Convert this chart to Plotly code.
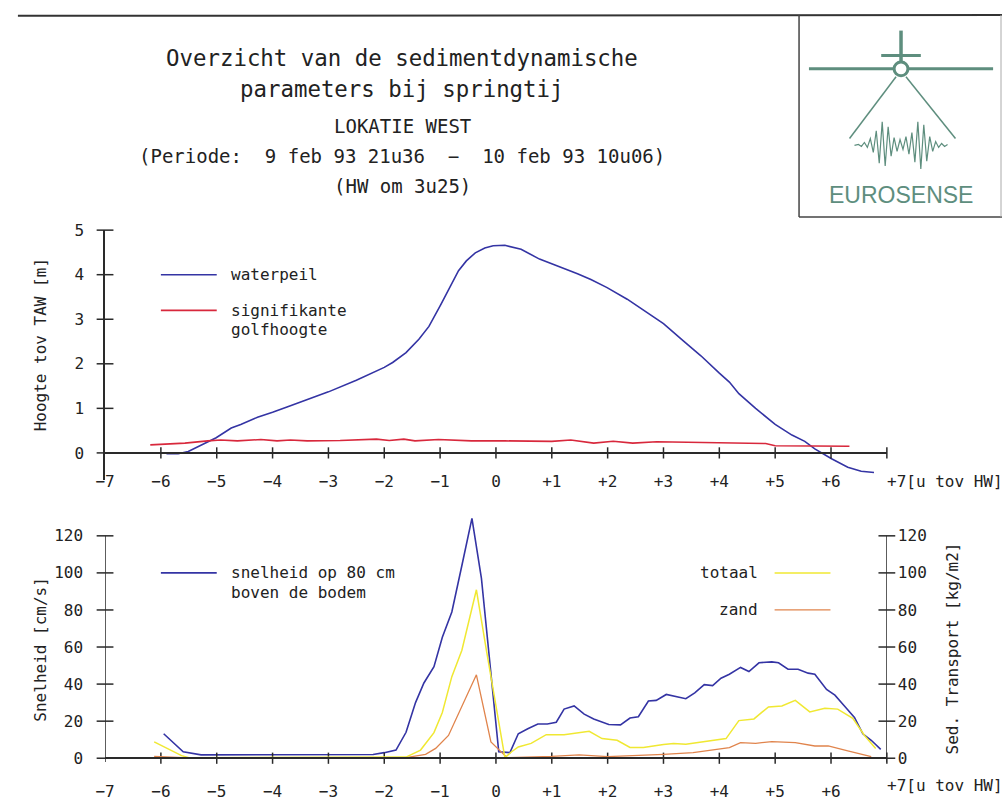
import plotly.graph_objects as go

# ---------------- data ----------------
# top chart: waterpeil (m TAW) vs hours relative to HW
wp_t = [-5.90, -5.69, -5.51, -5.22, -5.01, -4.74, -4.57, -4.27, -4.00, -3.68, -3.38, -3.00,
        -2.50, -2.20, -2.00, -1.85, -1.61, -1.38, -1.20, -0.99, -0.79, -0.67, -0.53, -0.37,
        -0.20, -0.05, 0.16, 0.45, 0.78, 0.99, 1.46, 1.70, 1.99, 2.35, 2.70, 3.00, 3.35, 3.67,
        4.00, 4.18, 4.35, 4.65, 5.00, 5.30, 5.53, 5.71, 6.01, 6.30, 6.54, 6.77]
wp = [-0.02, -0.02, 0.03, 0.20, 0.34, 0.56, 0.64, 0.80, 0.91, 1.06, 1.20, 1.37,
      1.63, 1.80, 1.92, 2.03, 2.25, 2.55, 2.84, 3.32, 3.79, 4.09, 4.31, 4.49,
      4.60, 4.65, 4.66, 4.57, 4.35, 4.25, 4.02, 3.89, 3.71, 3.45, 3.16, 2.90, 2.52, 2.18,
      1.79, 1.59, 1.33, 1.00, 0.64, 0.40, 0.26, 0.09, -0.13, -0.32, -0.41, -0.44]

# top chart: significant wave height (m)
gh_t = [-6.19, -5.57, -5.16, -4.93, -4.63, -4.21, -3.92, -3.68, -3.38, -2.79, -2.14, -1.91,
        -1.65, -1.45, -1.03, -0.44, 0.16, 1.00, 1.34, 1.75, 2.10, 2.45, 2.88, 3.95, 4.83,
        5.00, 5.71, 6.33]
gh = [0.18, 0.22, 0.27, 0.29, 0.27, 0.30, 0.27, 0.29, 0.27, 0.28, 0.31, 0.28,
      0.31, 0.27, 0.30, 0.27, 0.27, 0.26, 0.29, 0.22, 0.26, 0.22, 0.25, 0.22, 0.21,
      0.16, 0.15, 0.15]

# bottom chart: snelheid (cm/s)
sn_t = [-5.95, -5.60, -5.28, -4.5, -3.5, -2.5, -2.2, -2.0, -1.79, -1.61, -1.44, -1.29, -1.11,
        -0.96, -0.79, -0.61, -0.43, -0.26, 0.05, 0.25, 0.40, 0.57, 0.75, 0.92, 1.08, 1.22,
        1.40, 1.58, 1.75, 2.02, 2.23, 2.40, 2.55, 2.73, 2.87, 3.05, 3.23, 3.40, 3.56, 3.73,
        3.88, 4.03, 4.18, 4.38, 4.53, 4.71, 4.94, 5.06, 5.23, 5.41, 5.59, 5.71, 5.92, 6.07,
        6.24, 6.42, 6.57, 6.72, 6.89]
sn = [13.2, 3.5, 1.8, 1.8, 1.8, 1.8, 2.0, 3.0, 4.4, 14, 30, 40.6, 49.4,
      65.3, 78.9, 104, 129.4, 97, 3.5, 3.0, 13.2, 15.9, 18.5, 18.5, 19.4, 26.5,
      28.2, 23.8, 21.2, 18.2, 18.0, 21.7, 22.4, 30.9, 31.2, 34.4, 33, 32.1, 35.3, 39.7,
      39.2, 43.2, 45.3, 49, 46.8, 51.5, 52, 51.5, 48, 48, 45.9, 45.3, 37.1, 34,
      28.2, 22, 13.2, 9.7, 4.8]

# bottom chart: sediment transport totaal (kg/m2)
tt_t = [-6.12, -5.63, -5.5, -4.5, -3.5, -2.5, -1.61, -1.35, -1.11, -0.96, -0.79, -0.61,
        -0.35, -0.17, 0.01, 0.16, 0.28, 0.40, 0.63, 0.90, 1.22, 1.43, 1.67, 1.90, 2.17,
        2.40, 2.64, 3.00, 3.18, 3.40, 3.64, 3.88, 4.12, 4.35, 4.62, 4.88, 5.12, 5.36, 5.62,
        5.89, 6.12, 6.39, 6.60, 6.80]
tt = [8.8, 1.4, 0.3, 0.3, 0.3, 0.3, 0.6, 4.4, 13.8, 24.7, 44, 58.3,
      90.9, 58, 26.5, 0.3, 3.5, 6.1, 8, 12.7, 12.7, 13.6, 14.5, 10.6, 9.7,
      5.8, 5.8, 7.4, 8, 7.6, 8.5, 9.7, 10.6, 20.3, 21.2, 27.7, 28.2, 31.2, 25,
      27, 26.5, 21.5, 12.3, 5.3]

# bottom chart: sediment transport zand (kg/m2)
zd_t = [-6.12, -5.6, -4.5, -3.5, -2.5, -1.61, -1.26, -1.08, -0.85, -0.35, -0.09, 0.09, 0.20,
        1.0, 1.49, 2.0, 2.6, 3.0, 3.53, 3.95, 4.18, 4.38, 4.65, 4.94, 5.36, 5.71, 5.95,
        6.30, 6.72]
zd = [1.0, 0.3, 0.3, 0.3, 0.3, 0.3, 2.1, 5.3, 12.3, 45, 8.8, 3.5, 0.3,
      1.0, 1.8, 0.9, 1.4, 2.1, 3.0, 4.8, 5.7, 8.4, 8.0, 9.0, 8.4, 6.6, 6.6,
      4.0, 0.9]

x_ticks = [-7, -6, -5, -4, -3, -2, -1, 0, 1, 2, 3, 4, 5, 6]
x_ticktext = ["\u22127", "\u22126", "\u22125", "\u22124", "\u22123", "\u22122", "\u22121",
              "0", "+1", "+2", "+3", "+4", "+5", "+6"]
top_yticks = [0, 1, 2, 3, 4, 5]
bot_yticks = [0, 20, 40, 60, 80, 100, 120]

# ---------------- styling ----------------
W, H = 1002, 812
FONT = "DejaVu Sans Mono"
TXT = "#222222"
AX = "#2a2a2a"
BLUE = "#3434a4"
RED = "#d8283c"
YELLOW = "#f0e832"
ORANGE = "#e0844c"
LOGO = "#5e8e7e"


def px(x):
    return x / W


def py(y):
    return 1 - y / H


X_DOM = [px(96), px(885.7)]
TOP_DOM = [py(479.5), py(225.3)]
BOT_RANGE = [-2, 131]
BOT_DOM = [py(767.1), py(763.3 - 131 * 1.888)]

fig = go.Figure()

# data traces
fig.add_trace(go.Scatter(x=wp_t, y=wp, mode="lines", line=dict(color=BLUE, width=1.6),
                         xaxis="x", yaxis="y", hoverinfo="skip"))
fig.add_trace(go.Scatter(x=gh_t, y=gh, mode="lines", line=dict(color=RED, width=1.6),
                         xaxis="x", yaxis="y", hoverinfo="skip"))
fig.add_trace(go.Scatter(x=zd_t, y=zd, mode="lines", line=dict(color=ORANGE, width=1.3),
                         xaxis="x2", yaxis="y4", hoverinfo="skip"))
fig.add_trace(go.Scatter(x=tt_t, y=tt, mode="lines", line=dict(color=YELLOW, width=1.5),
                         xaxis="x2", yaxis="y4", hoverinfo="skip"))
fig.add_trace(go.Scatter(x=sn_t, y=sn, mode="lines", line=dict(color=BLUE, width=1.6),
                         xaxis="x2", yaxis="y3", hoverinfo="skip"))

# crossing tick marks
tick_marker_ns = dict(symbol="line-ns", size=8, line=dict(color=AX, width=1.5))
tick_marker_ew = dict(symbol="line-ew", size=12, line=dict(color=AX, width=1.5))
xt_inner = [v for v in range(-6, 8)]
fig.add_trace(go.Scatter(x=xt_inner, y=[0] * len(xt_inner), mode="markers", marker=tick_marker_ns,
                         cliponaxis=False, xaxis="x", yaxis="y", hoverinfo="skip"))
fig.add_trace(go.Scatter(x=[-7] * len(top_yticks), y=top_yticks, mode="markers", marker=tick_marker_ew,
                         cliponaxis=False, xaxis="x", yaxis="y", hoverinfo="skip"))
fig.add_trace(go.Scatter(x=xt_inner, y=[0] * len(xt_inner), mode="markers", marker=tick_marker_ns,
                         cliponaxis=False, xaxis="x2", yaxis="y3", hoverinfo="skip"))
fig.add_trace(go.Scatter(x=[-7] * len(bot_yticks), y=bot_yticks, mode="markers", marker=tick_marker_ew,
                         cliponaxis=False, xaxis="x2", yaxis="y3", hoverinfo="skip"))
fig.add_trace(go.Scatter(x=[7] * len(bot_yticks), y=bot_yticks, mode="markers", marker=tick_marker_ew,
                         cliponaxis=False, xaxis="x2", yaxis="y4", hoverinfo="skip"))

tickfont = dict(family=FONT, size=16, color=TXT)
xaxis_common = dict(range=[-7, 7], domain=X_DOM, showgrid=False, zeroline=False, showline=True,
                    linecolor=AX, linewidth=1.5, ticks="", tickvals=x_ticks, ticktext=x_ticktext,
                    tickfont=tickfont, anchor="free")
yaxis_common = dict(showgrid=False, zeroline=False, linecolor=AX, linewidth=1.5,
                    ticks="", tickfont=tickfont)

fig.update_layout(
    width=W, height=H,
    margin=dict(l=0, r=0, t=0, b=0),
    paper_bgcolor="white", plot_bgcolor="rgba(0,0,0,0)",
    showlegend=False,
    xaxis=dict(xaxis_common, position=py(452.3), ticklabelstandoff=14),
    yaxis=dict(yaxis_common, domain=TOP_DOM, range=[-0.6, 5], tickvals=top_yticks, anchor="x",
               showline=True, ticklabelstandoff=16),
    xaxis2=dict(xaxis_common, position=py(763.3), ticklabelstandoff=19),
    yaxis3=dict(yaxis_common, domain=BOT_DOM, range=BOT_RANGE, tickvals=bot_yticks, anchor="x2",
                showline=False, ticklabelstandoff=21),
    yaxis4=dict(yaxis_common, domain=BOT_DOM, range=BOT_RANGE, tickvals=bot_yticks, anchor="x2",
                overlaying="y3", side="right", showline=False, ticklabelstandoff=10),
)

ann = []


def text(x, y, s, size=16, xanchor="center", yanchor="middle", angle=0, color=TXT, family=FONT,
         xref="paper", yref="paper"):
    ann.append(dict(x=x, y=y, xref=xref, yref=yref, text=s, showarrow=False, xanchor=xanchor,
                    yanchor=yanchor, textangle=angle, font=dict(family=family, size=size, color=color)))


# titles
text(px(396), py(50), "Overzicht van de sedimentdynamische", size=22.4)
text(px(396), py(81), "parameters bij springtij", size=22.4)
text(px(396), py(119), "LOKATIE WEST", size=19)
text(px(396), py(150), "(Periode:  9 feb 93 21u36  \u2212  10 feb 93 10u06)", size=19)
text(px(396), py(180), "(HW om 3u25)", size=19)

# axis titles
text(px(31), py(342), "Hoogte tov TAW [m]", angle=-90)
text(px(31), py(652), "Snelheid [cm/s]", angle=-90)
text(px(952), py(651), "Sed. Transport [kg/m2]", angle=-90)
text(px(884), py(481), "+7[u tov HW]", xanchor="left")
text(px(884), py(791), "+7[u tov HW]", xanchor="left")

# legends (text)
text(-4.78, 4.0, "waterpeil", xanchor="left", xref="x", yref="y")
text(-4.78, 3.2, "signifikante", xanchor="left", xref="x", yref="y")
text(-4.78, 2.78, "golfhoogte", xanchor="left", xref="x", yref="y")
text(-4.78, 100, "snelheid op 80 cm", xanchor="left", xref="x2", yref="y3")
text(-4.78, 89.5, "boven de bodem", xanchor="left", xref="x2", yref="y3")
text(4.73, 100, "totaal", xanchor="right", xref="x2", yref="y4")
text(4.73, 80, "zand", xanchor="right", xref="x2", yref="y4")

# logo text
text(px(900), py(190), "EUROSENSE", size=23, color=LOGO, family="Liberation Sans")

fig.update_layout(annotations=ann)

shapes = []
# bottom-chart vertical axis lines (stop at 120 while the curve may exceed it)
shapes.append(dict(type="line", xref="x2", yref="y3", x0=-7, x1=-7, y0=-2, y1=120,
                   line=dict(color=AX, width=1.5)))
shapes.append(dict(type="line", xref="x2", yref="y3", x0=7, x1=7, y0=-2, y1=120,
                   line=dict(color=AX, width=1.5)))
# legend keys
shapes.append(dict(type="line", xref="x", yref="y", x0=-6.0, x1=-5.0, y0=4.0, y1=4.0,
                   line=dict(color=BLUE, width=1.6)))
shapes.append(dict(type="line", xref="x", yref="y", x0=-6.0, x1=-5.0, y0=3.2, y1=3.2,
                   line=dict(color=RED, width=1.6)))
shapes.append(dict(type="line", xref="x2", yref="y3", x0=-6.0, x1=-5.0, y0=100, y1=100,
                   line=dict(color=BLUE, width=1.6)))
shapes.append(dict(type="line", xref="x2", yref="y4", x0=4.99, x1=5.99, y0=100, y1=100,
                   line=dict(color=YELLOW, width=1.5)))
shapes.append(dict(type="line", xref="x2", yref="y4", x0=4.99, x1=5.99, y0=80, y1=80,
                   line=dict(color=ORANGE, width=1.3)))


def pline(x0, y0, x1, y1, color, width):
    shapes.append(dict(type="line", xref="paper", yref="paper", x0=px(x0), y0=py(y0),
                       x1=px(x1), y1=py(y1), line=dict(color=color, width=width)))


# page frame and logo box
pline(8, 7, 1002, 6, "#333333", 2)
pline(797, 6, 797, 212, "#444444", 1.5)
pline(797, 212, 1002, 212, "#444444", 1.5)
pline(1001, 6, 1001, 212, "#aaaaaa", 1)

# plane
pline(807, 61, 993, 61, LOGO, 3)
pline(900, 22, 900, 54, LOGO, 3.5)
pline(880, 47.5, 920, 47.5, LOGO, 3)
shapes.append(dict(type="circle", xref="paper", yref="paper", x0=px(893), x1=px(907),
                   y0=py(68), y1=py(54), line=dict(color=LOGO, width=3), fillcolor="white"))
pline(895, 69, 848, 132, LOGO, 1.5)
pline(905, 69, 955, 132, LOGO, 1.5)

wave = [(853, 139), (857, 138), (860, 140), (863, 136), (866, 141), (869, 132), (872, 146),
        (875, 124), (878, 157), (881, 115), (884, 160), (887, 120), (890, 150), (893, 131),
        (896, 145), (899, 133), (902, 143), (905, 130), (908, 148), (911, 126), (914, 156),
        (917, 115), (920, 163), (923, 118), (926, 155), (929, 130), (932, 145), (935, 135),
        (938, 141), (941, 137), (944, 140), (947, 138)]
path = "M " + " L ".join(f"{px(x):.5f},{py(y):.5f}" for x, y in wave)
shapes.append(dict(type="path", xref="paper", yref="paper", path=path,
                   line=dict(color=LOGO, width=1.2)))

fig.update_layout(shapes=shapes)

fig.write_html("out.html")
